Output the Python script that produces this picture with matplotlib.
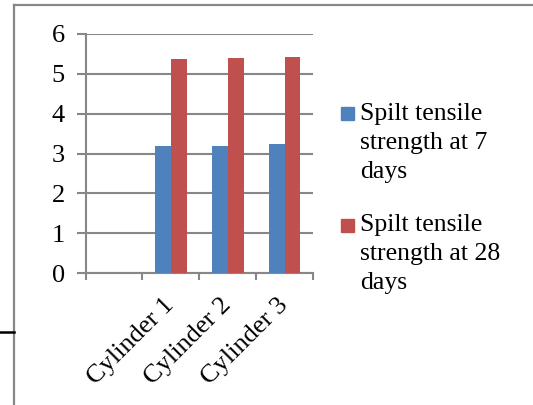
import numpy as np
import matplotlib
matplotlib.use("Agg")
import matplotlib.pyplot as plt
from matplotlib.patches import Rectangle
from matplotlib.lines import Line2D

categories = ["", "Cylinder 1", "Cylinder 2", "Cylinder 3"]
series_names = ["Spilt tensile\nstrength at 7\ndays", "Spilt tensile\nstrength at 28\ndays"]
days7 = [np.nan, 3.20, 3.18, 3.23]
days28 = [np.nan, 5.38, 5.39, 5.42]
yticks = [0, 1, 2, 3, 4, 5, 6]
colors = ["#4F81BD", "#C0504D"]
gray = "#878787"

plt.rcParams['font.family'] = ['Liberation Serif', 'DejaVu Serif']

W, H = 533, 405
fig = plt.figure(figsize=(W / 100, H / 100), dpi=100)
ax = fig.add_axes([85.5 / W, (H - 273) / H, (313 - 85.5) / W, (273 - 34) / H])

x = np.arange(len(categories))
bw = 0.28
ax.bar(x - bw / 2, days7, bw, color=colors[0], zorder=3)
ax.bar(x + bw / 2, days28, bw, color=colors[1], zorder=3)

ax.set_xlim(-0.5, len(categories) - 0.5)
ax.set_ylim(0, 6)
ax.set_yticks(yticks)
ax.set_yticklabels([str(v) for v in yticks], fontsize=19)
ax.yaxis.grid(True, color=gray, linewidth=1.5, zorder=0)
ax.set_axisbelow(True)

ax.set_xticks(x)
ax.set_xticklabels(categories, fontsize=19, rotation=45, ha='right', va='center',
                   rotation_mode='anchor')
ax.set_xticks(np.arange(-0.5, len(categories)), minor=True)
ax.tick_params(axis='x', which='major', length=0, pad=21)
ax.tick_params(axis='x', which='minor', length=5, width=1.5, color=gray, direction='out')
ax.tick_params(axis='y', length=6.8, width=1.5, color=gray, pad=8)

for s in ['top', 'right']:
    ax.spines[s].set_visible(False)
for s in ['left', 'bottom']:
    ax.spines[s].set_color(gray)
    ax.spines[s].set_linewidth(1.5)

# legend (Excel style: marker aligned with first line)
square_tops = [107, 219]
text_tops = [103, 214]
for name, c, sq, t in zip(series_names, colors, square_tops, text_tops):
    fig.patches.append(Rectangle((341 / W, 1 - (sq + 13) / H), 13 / W, 13 / H,
                                 transform=fig.transFigure, color=c, figure=fig))
    fig.text(360 / W, 1 - t / H, name, fontsize=18.5, va='top', ha='left',
             linespacing=1.42)

# frame lines
fig.lines.append(Line2D([13.5 / W, 13.5 / W], [0, 1 - 5 / H], transform=fig.transFigure,
                        color=gray, linewidth=1.6))
fig.lines.append(Line2D([13.5 / W, 532 / W], [1 - 5 / H, 1 - 5 / H], transform=fig.transFigure,
                        color=gray, linewidth=1.6))
fig.lines.append(Line2D([0, 13.5 / W], [1 - 331.7 / H, 1 - 331.7 / H], transform=fig.transFigure,
                        color='black', linewidth=1.8))

fig.savefig("out.png", dpi=100)
